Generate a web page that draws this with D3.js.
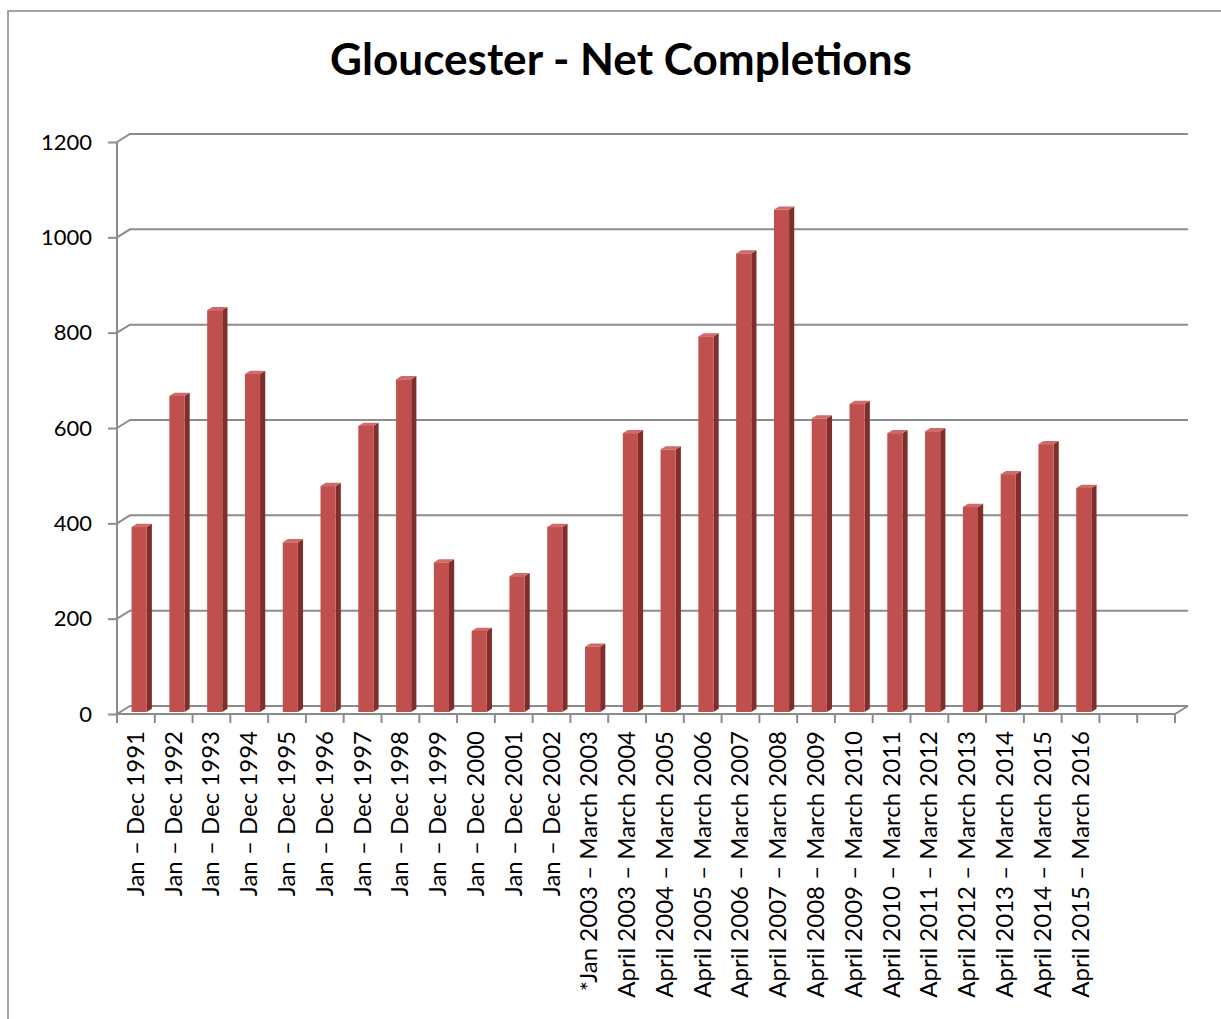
<!DOCTYPE html>
<html>
<head>
<meta charset="utf-8">
<script src="https://cdn.jsdelivr.net/npm/d3@7"></script>
<style>
  body { margin: 0; background: #fff; }
  svg { display: block; }
</style>
</head>
<body>
<div id="chart"></div>
<script>
// data
const categories = [
  "Jan – Dec 1991", "Jan – Dec 1992", "Jan – Dec 1993", "Jan – Dec 1994",
  "Jan – Dec 1995", "Jan – Dec 1996", "Jan – Dec 1997", "Jan – Dec 1998",
  "Jan – Dec 1999", "Jan – Dec 2000", "Jan – Dec 2001", "Jan – Dec 2002",
  "*Jan 2003 – March 2003",
  "April 2003 – March 2004", "April 2004 – March 2005", "April 2005 – March 2006",
  "April 2006 – March 2007", "April 2007 – March 2008", "April 2008 – March 2009",
  "April 2009 – March 2010", "April 2010 – March 2011", "April 2011 – March 2012",
  "April 2012 – March 2013", "April 2013 – March 2014", "April 2014 – March 2015",
  "April 2015 – March 2016", "", ""
];
const completions = [
  388, 663, 843, 709, 356, 474, 600, 698, 314, 170, 285, 388,
  137, 585, 551, 788, 962, 1054, 616, 646, 585, 589, 430, 499, 562, 470
];
const yTicks = [0, 200, 400, 600, 800, 1000, 1200];

const W = 1221, H = 1019;
const plotLeft = 117, plotRight = 1175, plotBottom = 714, plotTop = 142;
const DX = 13, DY = -8;          // depth offset of the back wall
const f1 = 0.25, f2 = 0.65;      // bar depth span

const svg = d3.select("#chart").append("svg")
  .attr("width", W).attr("height", H);

// frame
svg.append("path")
  .attr("d", `M8,${H} L8,11 L${W},11`)
  .attr("fill", "none").attr("stroke", "#878787").attr("stroke-width", 1.5);

// title
const title = svg.append("text")
  .attr("x", 621).attr("y", 75)
  .attr("text-anchor", "middle")
  .style("font-family", "Lato, 'Open Sans', sans-serif")
  .style("font-weight", "bold")
  .style("font-size", "36px")
  .text("Gloucester - Net Completions");
const tw = title.node().getComputedTextLength();
title.style("font-size", (36 * 582 / tw) + "px");

const x = d3.scaleBand()
  .domain(d3.range(categories.length))
  .range([plotLeft, plotRight])
  .paddingInner(0.6).paddingOuter(0.3);
const step = x.step();

const y = d3.scaleLinear().domain([0, 1200]).range([plotBottom, plotTop]);

const grid = "#8c8c8c";

// back wall gridlines + diagonals to the axis
yTicks.forEach(t => {
  const yy = y(t);
  svg.append("path")
    .attr("d", `M${plotLeft},${yy} L${plotLeft + DX},${yy + DY} L${plotRight + DX},${yy + DY}`)
    .attr("fill", "none").attr("stroke", grid).attr("stroke-width", 2);
});

// floor
svg.append("path")
  .attr("d", `M${plotLeft},${plotBottom} L${plotRight},${plotBottom} L${plotRight + DX},${plotBottom + DY}`)
  .attr("fill", "none").attr("stroke", grid).attr("stroke-width", 2);

// vertical axis
svg.append("line")
  .attr("x1", plotLeft).attr("x2", plotLeft).attr("y1", y(1200)).attr("y2", plotBottom + 8)
  .attr("stroke", grid).attr("stroke-width", 2);

// y ticks and labels
const yAxis = d3.axisLeft(y).tickValues(yTicks).tickFormat(d3.format("d"))
  .tickSize(9).tickPadding(16);
const ya = svg.append("g").attr("transform", `translate(${plotLeft},0)`).call(yAxis);
ya.select(".domain").remove();
ya.selectAll(".tick line").attr("stroke", grid).attr("stroke-width", 2);
ya.selectAll(".tick text")
  .style("font-family", "Lato, 'Open Sans', sans-serif")
  .style("font-size", "22px").attr("fill", "#000");

// x ticks at category boundaries
d3.range(categories.length + 1).forEach(i => {
  const xx = plotLeft + i * step;
  svg.append("line")
    .attr("x1", xx).attr("x2", xx).attr("y1", plotBottom).attr("y2", plotBottom + 9)
    .attr("stroke", grid).attr("stroke-width", 2);
});

// x labels
svg.append("g").selectAll("text")
  .data(categories)
  .join("text")
  .attr("transform", (d, i) => `translate(${plotLeft + (i + 0.5) * step + 8},731) rotate(-90)`)
  .attr("text-anchor", "end")
  .style("font-family", "Lato, 'Open Sans', sans-serif")
  .style("font-size", "24px")
  .text(d => d);

// 3d bars
const bw = x.bandwidth();
const ddx = DX * (f2 - f1), ddy = DY * (f2 - f1);
const bars = svg.append("g").selectAll("g")
  .data(completions)
  .join("g")
  .attr("transform", (d, i) => `translate(${x(i) + DX * f1},${DY * f1})`);

// side face
bars.append("path")
  .attr("fill", "#7f2e2c")
  .attr("d", d => `M${bw},${y(d)} L${bw + ddx},${y(d) + ddy} L${bw + ddx},${plotBottom + ddy} L${bw},${plotBottom} Z`);
// top face
bars.append("path")
  .attr("fill", "#cf6a67")
  .attr("d", d => `M0,${y(d)} L${ddx},${y(d) + ddy} L${bw + ddx},${y(d) + ddy} L${bw},${y(d)} Z`);
// front face
bars.append("rect")
  .attr("x", 0).attr("width", bw)
  .attr("y", d => y(d)).attr("height", d => plotBottom - y(d))
  .attr("fill", "#c0504d");
</script>
</body>
</html>
